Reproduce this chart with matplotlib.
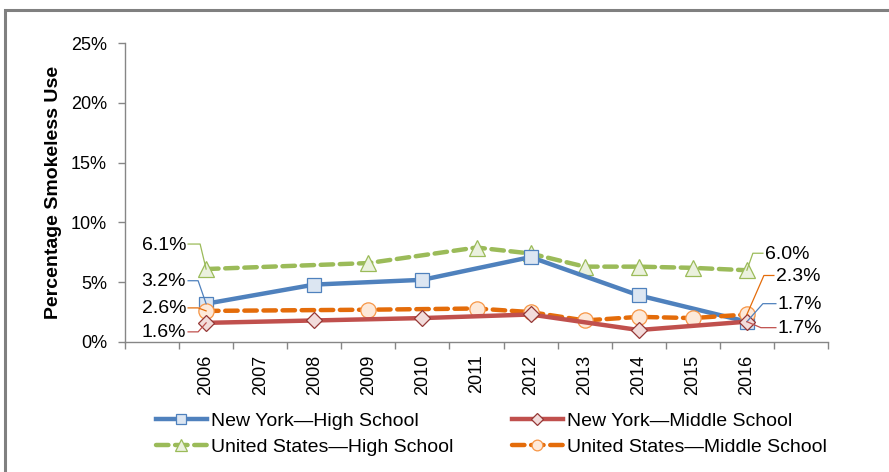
import numpy as np
import matplotlib.pyplot as plt
from matplotlib.lines import Line2D
from matplotlib.patches import Rectangle

plt.rcParams['font.family'] = ['Liberation Sans', 'DejaVu Sans']

years = ['2006', '2007', '2008', '2009', '2010', '2011', '2012', '2013', '2014', '2015', '2016']
nan = np.nan
ny_hs = [3.2, nan, 4.8, nan, 5.2, nan, 7.1, nan, 3.9, nan, 1.7]
ny_ms = [1.6, nan, 1.8, nan, 2.0, nan, 2.3, nan, 1.0, nan, 1.7]
us_hs = [6.1, nan, nan, 6.6, nan, 7.9, 7.4, 6.3, 6.3, 6.2, 6.0]
us_ms = [2.6, nan, nan, 2.7, nan, 2.8, 2.5, 1.8, 2.1, 2.0, 2.3]
names = ['New York\u2014High School', 'New York\u2014Middle School',
         'United States\u2014High School', 'United States\u2014Middle School']

W, H = 889, 472
fig = plt.figure(figsize=(W / 100, H / 100), dpi=100)
ax = fig.add_axes([125 / W, 1 - 342 / H, (828 - 125) / W, (342 - 43) / H])

# frame of the cropped chart area
fig.patches.append(Rectangle((5 / W, -0.1), 1.2, 1 - 10 / H + 0.1, transform=fig.transFigure,
                             fill=False, edgecolor='#808080', linewidth=2.2))

styles = [
    dict(color='#4F81BD', marker='s', mfc='#DCE6F2', mec='#4F81BD', ms=10, ls='-'),
    dict(color='#C0504D', marker='D', mfc='#F2DCDB', mec='#953735', ms=8.5, ls='-'),
    dict(color='#9BBB59', marker='^', mfc='#EBF1DE', mec='#9BBB59', ms=12, ls=(0, (2.8, 1.5))),
    dict(color='#E46C0A', marker='o', mfc='#FDE9D9', mec='#F79646', ms=11, ls=(0, (2.8, 1.5))),
]
series = [ny_hs, ny_ms, us_hs, us_ms]
x = np.arange(1, len(years) + 1)

order = [2, 0, 3, 1]
for i in order:
    v = np.array(series[i], dtype=float)
    m = ~np.isnan(v)
    st = styles[i]
    ax.plot(x[m], v[m], color=st['color'], lw=3.2, ls=st['ls'], marker=st['marker'],
            mfc=st['mfc'], mec=st['mec'], ms=st['ms'], mew=0.9, label=names[i],
            dash_capstyle='round', zorder=3)

ax.set_xlim(-0.5, len(years) + 1.5)
ax.set_ylim(0, 25)
ax.set_yticks(np.arange(0, 26, 5))
ax.set_yticklabels([f'{t}%' for t in range(0, 26, 5)], fontsize=13)
ax.set_xticks(x)
ax.set_xticklabels(years, rotation=90, fontsize=13)
ax.set_xticks(np.arange(-0.5, len(years) + 2), minor=True)
ax.tick_params(axis='x', which='major', length=0, pad=9)
ax.tick_params(axis='x', which='minor', length=5, color='#868686', width=1)
ax.tick_params(axis='y', length=5, color='#868686', width=1, pad=8)
for s in ['top', 'right']:
    ax.spines[s].set_visible(False)
for s in ['left', 'bottom']:
    ax.spines[s].set_color('#868686')
    ax.spines[s].set_linewidth(1)
ax.set_ylabel('Percentage Smokeless Use', fontsize=14, fontweight='bold', labelpad=6)

# data labels with leader lines (pixel offsets from the point: elbow, end)
labels = [
    (2, 0, (-6, -25), (-18, -25), 'right'),
    (0, 0, (-8, -23), (-18, -23), 'right'),
    (3, 0, (-8, -3), (-18, -3), 'right'),
    (1, 0, (-8, 9), (-18, 9), 'right'),
    (2, 10, (6, -17), (16, -17), 'left'),
    (3, 10, (17, -39), (27, -39), 'left'),
    (0, 10, (16, -18), (29, -18), 'left'),
    (1, 10, (14, 6), (29, 6), 'left'),
]
fig.canvas.draw()
for si, yi, elbow, end, side in labels:
    v = series[si][yi]
    px, py = ax.transData.transform((x[yi], v))
    xs = [px, px + elbow[0], px + end[0]]
    ys = [py, py - elbow[1], py - end[1]]
    fig.add_artist(Line2D(xs, ys, transform=None, color=styles[si]['color'], lw=0.9, zorder=5))
    tx = px + end[0] + (-2 if side == 'right' else 2)
    fig.text(tx / W, (py - end[1] - 1) / H, f'{v:.1f}%', ha=side, va='center', fontsize=14)

handles, labs = ax.get_legend_handles_labels()
hmap = dict(zip(labs, handles))
leg_order = [names[0], names[2], names[1], names[3]]
fig.legend([hmap[n] for n in leg_order], leg_order, loc='upper left',
           bbox_to_anchor=(138 / W, 1 - 395 / H), ncol=2, frameon=False, fontsize=14,
           handlelength=2.65, handletextpad=0.2, columnspacing=3.0, labelspacing=0.42,
           markerscale=0.7)

fig.savefig('out.png', dpi=100)
